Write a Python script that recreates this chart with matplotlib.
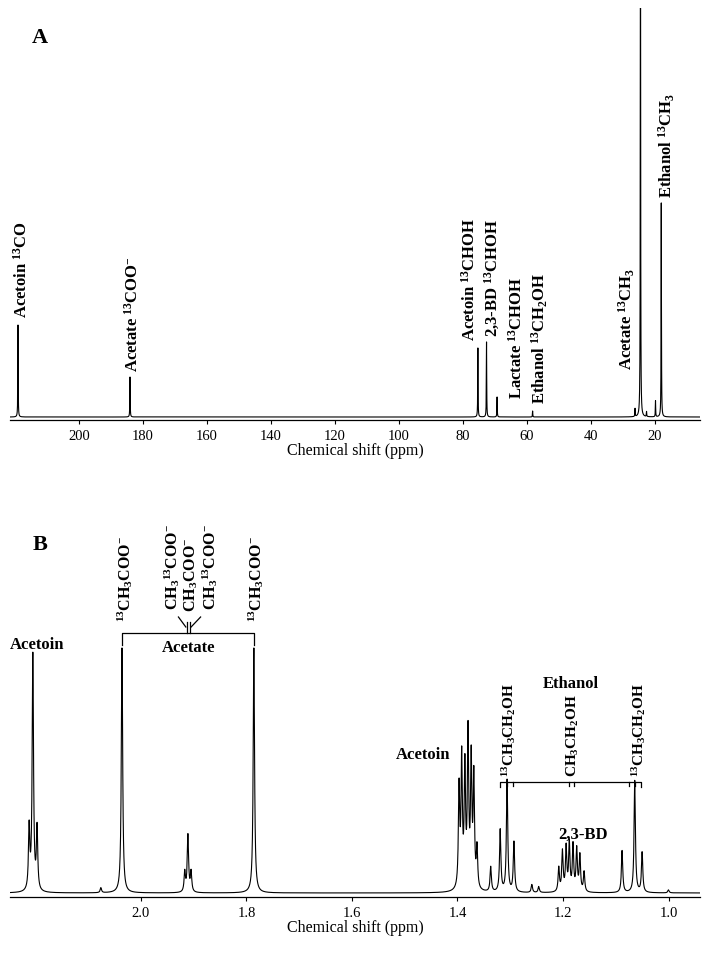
import numpy as np
import matplotlib
matplotlib.use('Agg')
import matplotlib.pyplot as plt

plt.rcParams['font.family'] = ['Liberation Serif', 'DejaVu Serif']
plt.rcParams['mathtext.fontset'] = 'custom'
plt.rcParams['mathtext.rm'] = 'Liberation Serif:bold'
plt.rcParams['mathtext.it'] = 'Liberation Serif:bold'
plt.rcParams['mathtext.bf'] = 'Liberation Serif:bold'

# --- panel A: 13C spectrum, peak list (ppm, height) ---
c13_ppm = [219.0, 184.0, 75.3, 72.6, 69.3, 58.2, 26.2, 24.5, 22.6, 19.8, 18.0]
c13_height = [92, 40, 69, 75, 20, 6, 8, 600, 5, 16, 214]
c13_ticks = [200, 180, 160, 140, 120, 100, 80, 60, 40, 20]

# --- panel B: 1H spectrum ---
h1_ppm = [2.212, 2.205, 2.197, 2.076, 2.036,
          1.917, 1.911, 1.905, 1.786,
          1.397, 1.392, 1.386, 1.380, 1.374, 1.369, 1.363,
          1.337, 1.319, 1.306, 1.293, 1.259, 1.246,
          1.208, 1.201, 1.194, 1.188, 1.181, 1.174, 1.168, 1.160,
          1.088, 1.064, 1.050, 1.000]
h1_height = [62, 236, 62, 5, 245,
             20, 57, 20, 245,
             100, 128, 118, 153, 126, 110, 40,
             25, 62, 112, 50, 8, 6,
             24, 40, 44, 48, 46, 42, 36, 20,
             42, 112, 40, 3]
h1_ticks = [2.0, 1.8, 1.6, 1.4, 1.2, 1.0]

W, H = 705, 980


def lorentz(grid, centres, heights, hw):
    y = np.zeros_like(grid)
    for c, h in zip(centres, heights):
        y += h / (1 + ((grid - c) / hw) ** 2)
    return y


def style_axis(ax, ticks, fmt):
    for s in ['left', 'right', 'top']:
        ax.spines[s].set_visible(False)
    ax.spines['bottom'].set_linewidth(0.9)
    ax.set_yticks([])
    ax.set_xticks(ticks)
    ax.set_xticklabels([fmt.format(t) for t in ticks])
    ax.tick_params(axis='x', direction='out', length=3, width=0.8,
                   labelsize=10.5, pad=4)
    ax.set_xlabel('Chemical shift (ppm)', fontsize=11.5, labelpad=0)


fig = plt.figure(figsize=(W / 100, H / 100), dpi=100)

# ---------------- A ----------------
axA = fig.add_axes([10 / W, 1 - 420 / H, 690 / W, 412 / H])
xa = np.union1d(np.linspace(221.5, 5.9, 20000), c13_ppm)
axA.plot(xa, lorentz(xa, c13_ppm, c13_height, 0.06), color='black', lw=0.8)
axA.set_xlim(221.5, 5.9)
axA.set_ylim(-3, 409)
style_axis(axA, c13_ticks, '{:d}')

lab_kw = dict(rotation=90, ha='center', va='bottom', fontsize=12,
              fontweight='bold')
axA.text(217.8, 99, 'Acetoin $^{13}$CO', **lab_kw)
axA.text(183.1, 45, 'Acetate $^{13}$COO$^{-}$', **lab_kw)
axA.text(77.8, 76, 'Acetoin $^{13}$CHOH', **lab_kw)
axA.text(70.9, 80, '2,3-BD $^{13}$CHOH', **lab_kw)
axA.text(63.1, 18, 'Lactate $^{13}$CHOH', **lab_kw)
axA.text(55.9, 13, 'Ethanol $^{13}$CH$_2$OH', **lab_kw)
axA.text(28.7, 47, 'Acetate $^{13}$CH$_3$', **lab_kw)
axA.text(16.2, 219, 'Ethanol $^{13}$CH$_3$', **lab_kw)

# ---------------- B ----------------
axB = fig.add_axes([10 / W, 1 - 897 / H, 690 / W, 337 / H])
xb = np.union1d(np.linspace(2.2483, 0.9403, 20000), h1_ppm)
axB.plot(xb, lorentz(xb, h1_ppm, h1_height, 0.0015), color='black', lw=0.8)
axB.set_xlim(2.2483, 0.9403)
axB.set_ylim(-4, 333)
style_axis(axB, h1_ticks, '{:.1f}')

bkw = dict(rotation=90, ha='center', va='bottom', fontsize=11.5,
           fontweight='bold')
axB.text(2.030, 271, '$^{13}$CH$_3$COO$^{-}$', **bkw)
axB.text(1.940, 283, 'CH$_3$$^{13}$COO$^{-}$', **bkw)
axB.text(1.905, 281, 'CH$_3$COO$^{-}$', **bkw)
axB.text(1.868, 283, 'CH$_3$$^{13}$COO$^{-}$', **bkw)
axB.text(1.781, 271, '$^{13}$CH$_3$COO$^{-}$', **bkw)

lk = dict(color='black', lw=0.9, clip_on=False)
# acetate bracket
axB.plot([2.036, 2.036, 1.786, 1.786], [248, 260, 260, 248], **lk)
axB.plot([1.913, 1.913], [260, 271], **lk)
axB.plot([1.907, 1.907], [260, 271], **lk)
axB.plot([1.915, 1.929], [266, 276], **lk)
axB.plot([1.905, 1.887], [266, 276], **lk)
axB.text(1.910, 245, 'Acetate', ha='center', va='center', fontsize=12,
         fontweight='bold')

# ethanol bracket
eth_y = 111
axB.plot([1.319, 1.319, 1.052, 1.052], [eth_y - 5, eth_y, eth_y, eth_y - 5],
         **lk)
for t in [1.306, 1.295, 1.189, 1.179, 1.075, 1.064]:
    axB.plot([t, t], [eth_y - 4, eth_y], **lk)
axB.text(1.186, 209, 'Ethanol', ha='center', va='center', fontsize=12,
         fontweight='bold')
ekw = dict(bkw, fontsize=11)
axB.text(1.303, eth_y + 5, '$^{13}$CH$_3$CH$_2$OH', **ekw)
axB.text(1.181, eth_y + 5, 'CH$_3$CH$_2$OH', **ekw)
axB.text(1.056, eth_y + 5, '$^{13}$CH$_3$CH$_2$OH', **ekw)

axB.text(2.197, 248, 'Acetoin', ha='center', va='center', fontsize=12,
         fontweight='bold')
axB.text(1.465, 138, 'Acetoin', ha='center', va='center', fontsize=12,
         fontweight='bold')
axB.text(1.162, 58, '2,3-BD', ha='center', va='center', fontsize=12,
         fontweight='bold')

fig.text(40 / W, 1 - 38 / H, 'A', ha='center', va='center', fontsize=16,
         fontweight='bold')
fig.text(40 / W, 1 - 545 / H, 'B', ha='center', va='center', fontsize=16,
         fontweight='bold')

fig.savefig('out.png', dpi=100)
